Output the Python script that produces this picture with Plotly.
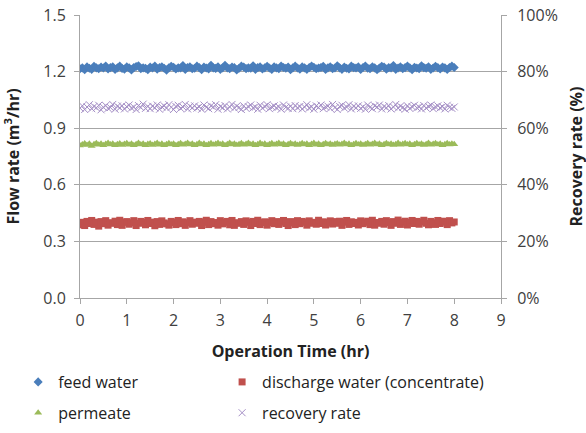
import plotly.graph_objects as go

# sampling times every 3 minutes over 8 hours
time_hr = [m / 60 for m in range(0, 481, 3)]

feed_water = [
    1.215, 1.22, 1.21, 1.225, 1.218, 1.212, 1.228, 1.22, 1.215, 1.224,
    1.219, 1.23, 1.214, 1.221, 1.226, 1.211, 1.22, 1.229, 1.217, 1.213,
    1.225, 1.22, 1.209, 1.222, 1.227, 1.231, 1.216, 1.22, 1.218, 1.21,
    1.224, 1.219, 1.23, 1.213, 1.221, 1.226, 1.218, 1.208, 1.22, 1.228,
    1.223, 1.214, 1.22, 1.219, 1.232, 1.211, 1.222, 1.225, 1.215, 1.218,
    1.229, 1.221, 1.21, 1.224, 1.219, 1.214, 1.233, 1.22, 1.217, 1.226,
    1.212, 1.22, 1.234, 1.219, 1.215, 1.224, 1.221, 1.209, 1.218, 1.229,
    1.224, 1.216, 1.22, 1.218, 1.231, 1.212, 1.221, 1.225, 1.214, 1.22,
    1.228, 1.219, 1.211, 1.226, 1.22, 1.215, 1.23, 1.222, 1.218, 1.224,
    1.21, 1.22, 1.229, 1.219, 1.213, 1.225, 1.22, 1.212, 1.221, 1.23,
    1.223, 1.215, 1.219, 1.222, 1.228, 1.211, 1.22, 1.226, 1.216, 1.219,
    1.231, 1.22, 1.212, 1.224, 1.218, 1.214, 1.229, 1.221, 1.219, 1.225,
    1.211, 1.222, 1.23, 1.218, 1.215, 1.226, 1.22, 1.21, 1.219, 1.228,
    1.224, 1.213, 1.221, 1.22, 1.232, 1.212, 1.219, 1.225, 1.216, 1.221,
    1.229, 1.22, 1.21, 1.223, 1.219, 1.215, 1.231, 1.221, 1.218, 1.226,
    1.212, 1.219, 1.228, 1.221, 1.214, 1.224, 1.22, 1.211, 1.222, 1.229,
    1.222,
]

discharge_water = [
    0.388, 0.401, 0.384, 0.406, 0.395, 0.411, 0.39, 0.402, 0.381, 0.405,
    0.394, 0.41, 0.386, 0.399, 0.396, 0.407, 0.389, 0.412, 0.385, 0.401,
    0.405, 0.391, 0.399, 0.41, 0.384, 0.396, 0.406, 0.401, 0.388, 0.411,
    0.395, 0.402, 0.383, 0.405, 0.39, 0.409, 0.398, 0.393, 0.386, 0.406,
    0.4, 0.389, 0.411, 0.394, 0.404, 0.385, 0.399, 0.41, 0.391, 0.402,
    0.396, 0.406, 0.384, 0.401, 0.412, 0.389, 0.405, 0.394, 0.4, 0.386,
    0.41, 0.393, 0.401, 0.406, 0.388, 0.411, 0.385, 0.399, 0.396, 0.405,
    0.39, 0.409, 0.401, 0.384, 0.406, 0.395, 0.412, 0.389, 0.4, 0.404,
    0.386, 0.4, 0.41, 0.394, 0.405, 0.39, 0.402, 0.411, 0.395, 0.384,
    0.405, 0.398, 0.389, 0.41, 0.394, 0.406, 0.401, 0.386, 0.409, 0.396,
    0.401, 0.391, 0.412, 0.395, 0.404, 0.387, 0.4, 0.409, 0.392, 0.405,
    0.396, 0.407, 0.385, 0.402, 0.411, 0.39, 0.404, 0.395, 0.401, 0.387,
    0.409, 0.394, 0.401, 0.407, 0.389, 0.412, 0.386, 0.4, 0.396, 0.406,
    0.391, 0.41, 0.4, 0.385, 0.405, 0.396, 0.413, 0.39, 0.402, 0.407,
    0.387, 0.401, 0.411, 0.395, 0.406, 0.391, 0.403, 0.412, 0.396, 0.388,
    0.406, 0.399, 0.39, 0.411, 0.395, 0.407, 0.402, 0.389, 0.41, 0.398,
    0.403,
]

permeate = [
    0.808, 0.814, 0.819, 0.811, 0.817, 0.806, 0.815, 0.82, 0.812, 0.817,
    0.81, 0.816, 0.821, 0.813, 0.818, 0.809, 0.815, 0.819, 0.811, 0.816,
    0.82, 0.812, 0.817, 0.809, 0.815, 0.821, 0.813, 0.818, 0.81, 0.816,
    0.819, 0.811, 0.816, 0.822, 0.812, 0.817, 0.809, 0.815, 0.82, 0.813,
    0.818, 0.81, 0.815, 0.82, 0.812, 0.816, 0.821, 0.813, 0.817, 0.809,
    0.815, 0.821, 0.814, 0.818, 0.81, 0.815, 0.82, 0.812, 0.816, 0.822,
    0.813, 0.817, 0.809, 0.815, 0.821, 0.814, 0.818, 0.811, 0.815, 0.82,
    0.812, 0.816, 0.822, 0.813, 0.817, 0.81, 0.815, 0.821, 0.814, 0.818,
    0.81, 0.815, 0.82, 0.812, 0.816, 0.821, 0.813, 0.817, 0.809, 0.815,
    0.82, 0.814, 0.818, 0.811, 0.815, 0.82, 0.813, 0.817, 0.81, 0.816,
    0.821, 0.812, 0.817, 0.809, 0.815, 0.82, 0.814, 0.818, 0.811, 0.816,
    0.819, 0.812, 0.816, 0.821, 0.813, 0.817, 0.81, 0.815, 0.82, 0.814,
    0.818, 0.811, 0.815, 0.82, 0.812, 0.816, 0.822, 0.813, 0.817, 0.81,
    0.815, 0.82, 0.814, 0.818, 0.811, 0.815, 0.821, 0.812, 0.816, 0.82,
    0.813, 0.817, 0.81, 0.815, 0.82, 0.814, 0.818, 0.811, 0.815, 0.821,
    0.812, 0.816, 0.82, 0.813, 0.817, 0.81, 0.815, 0.82, 0.814, 0.818,
    0.815,
]

recovery_rate = [
    67.1, 67.9, 66.6, 67.5, 68.3, 66.9, 67.7, 67.2, 68.1, 66.5,
    67.4, 68.0, 67.0, 67.3, 68.4, 66.7, 67.8, 67.2, 67.9, 66.8,
    67.6, 68.2, 67.1, 67.5, 66.6, 68.0, 67.3, 68.5, 67.0, 67.7,
    66.9, 67.8, 67.2, 68.2, 66.7, 67.5, 67.9, 67.1, 68.3, 67.4,
    66.6, 67.7, 68.1, 67.0, 67.5, 68.4, 66.8, 67.8, 67.2, 67.9,
    67.1, 67.6, 66.7, 68.2, 67.4, 66.9, 67.9, 67.5, 68.3, 66.7,
    67.7, 67.2, 68.0, 66.8, 67.5, 68.4, 67.1, 67.8, 67.3, 66.6,
    67.9, 67.0, 67.6, 68.2, 67.2, 67.5, 66.7, 68.1, 67.1, 67.7,
    68.3, 66.9, 67.5, 67.9, 67.2, 67.6, 66.7, 68.2, 67.4, 67.0,
    67.8, 66.9, 68.0, 67.2, 67.7, 66.8, 67.5, 68.3, 67.1, 67.6,
    66.7, 67.9, 67.3, 68.2, 66.9, 67.5, 67.8, 67.0, 68.4, 67.3,
    66.6, 67.7, 68.1, 67.1, 67.5, 68.3, 66.8, 67.8, 67.2, 67.9,
    67.0, 67.6, 66.7, 68.2, 67.4, 66.9, 67.9, 67.5, 68.2, 66.8,
    67.7, 67.2, 68.0, 66.8, 67.5, 68.4, 67.1, 67.8, 67.3, 66.7,
    67.9, 67.0, 67.6, 68.1, 67.2, 67.5, 66.8, 68.0, 67.1, 67.7,
    68.2, 66.9, 67.5, 67.9, 67.2, 67.6, 66.8, 68.1, 67.4, 67.0,
    67.5,
]

left_ticks = [0.0, 0.3, 0.6, 0.9, 1.2, 1.5]
left_labels = ["0.0", "0.3", "0.6", "0.9", "1.2", "1.5"]
right_ticks = [0, 20, 40, 60, 80, 100]
right_labels = ["0%", "20%", "40%", "60%", "80%", "100%"]
x_ticks = [0, 1, 2, 3, 4, 5, 6, 7, 8, 9]

FONT = "Open Sans, Noto Sans, sans-serif"
TXT = "#222222"
TICK = "#404040"

fig = go.Figure()
fig.add_trace(go.Scatter(
    x=time_hr, y=feed_water, mode="markers", name="feed water",
    marker=dict(symbol="diamond", size=7, color="#4a7ebb"),
    legend="legend", legendgroup="a"))
fig.add_trace(go.Scatter(
    x=time_hr, y=permeate, mode="markers", name="permeate",
    marker=dict(symbol="triangle-up", size=7, color="#9bbb59"),
    legend="legend", legendgroup="b"))
fig.add_trace(go.Scatter(
    x=time_hr, y=discharge_water, mode="markers", name="discharge water (concentrate)",
    marker=dict(symbol="square", size=7, color="#c0504d"),
    legend="legend2", legendgroup="c"))
fig.add_trace(go.Scatter(
    x=time_hr, y=recovery_rate, mode="markers", name="recovery rate",
    marker=dict(symbol="x-thin", size=7, line=dict(width=1, color="#a58fc6")),
    yaxis="y2", legend="legend2", legendgroup="d"))

axis_common = dict(showline=True, linecolor="#a6a6a6", linewidth=1,
                   ticks="outside", tickcolor="#a6a6a6", ticklen=5,
                   tickfont=dict(size=16, color=TICK, family=FONT))

fig.update_layout(
    width=586, height=433,
    margin=dict(l=80, r=85, t=15, b=135, autoexpand=False),
    paper_bgcolor="white", plot_bgcolor="white",
    font=dict(family=FONT, color=TXT),
    xaxis=dict(range=[0, 9], tickvals=x_ticks, showgrid=False, zeroline=False,
               ticklabelstandoff=3,
               title=dict(text="<b>Operation Time (hr)</b>", font=dict(size=16, color=TXT), standoff=15),
               **axis_common),
    yaxis=dict(range=[0, 1.5], tickvals=left_ticks, ticktext=left_labels,
               showgrid=True, gridcolor="#a6a6a6", gridwidth=1, zeroline=False,
               ticklabelstandoff=5, **axis_common),
    yaxis2=dict(range=[0, 100], tickvals=right_ticks, ticktext=right_labels,
                overlaying="y", side="right", showgrid=False, zeroline=False,
                ticklabelstandoff=7, **axis_common),
    legend=dict(xref="container", yref="container", x=0.031, y=0.157,
                xanchor="left", yanchor="top",
                font=dict(size=16, color=TXT), tracegroupgap=7,
                bgcolor="rgba(0,0,0,0)"),
    legend2=dict(xref="container", yref="container", x=0.379, y=0.157,
                 xanchor="left", yanchor="top",
                 font=dict(size=16, color=TXT), tracegroupgap=7,
                 bgcolor="rgba(0,0,0,0)"),
    annotations=[
        dict(text="<b>Flow rate (m<sup>3</sup>/hr)</b>", textangle=-90,
             xref="paper", yref="paper", x=-0.1615, y=0.5,
             xanchor="center", yanchor="middle", showarrow=False,
             font=dict(size=16, color=TXT, family=FONT)),
        dict(text="<b>Recovery rate (%)</b>", textangle=-90,
             xref="paper", yref="paper", x=1.1758, y=0.5,
             xanchor="center", yanchor="middle", showarrow=False,
             font=dict(size=16, color=TXT, family=FONT)),
    ],
)

fig.write_html("out.html", config={"displayModeBar": False},
               post_script="document.body.style.margin='0';")
